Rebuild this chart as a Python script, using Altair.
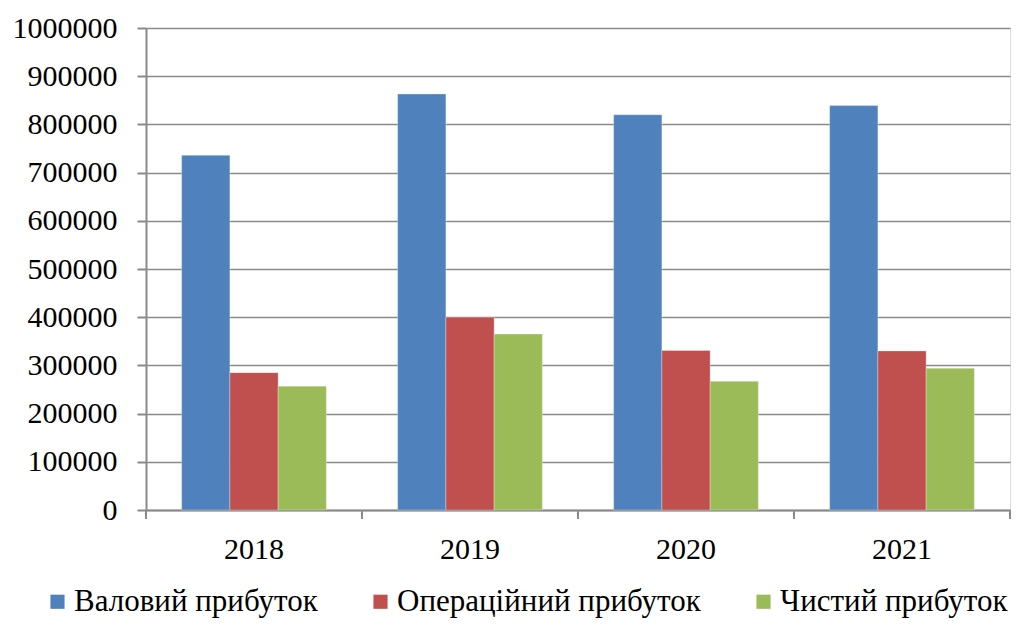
import altair as alt
import pandas as pd

years = ["2018", "2019", "2020", "2021"]
series = ["Валовий прибуток", "Операційний прибуток", "Чистий прибуток"]
valovyi = [736000, 863000, 820000, 839000]
operatsiinyi = [285000, 400000, 331000, 330000]
chystyi = [257000, 365000, 267000, 294000]
colors = ["#4F81BD", "#C0504D", "#9BBB59"]

rows = []
for name, vals in zip(series, [valovyi, operatsiinyi, chystyi]):
    for y, v in zip(years, vals):
        rows.append({"year": y, "series": name, "value": v})
df = pd.DataFrame(rows)
ticks_df = pd.DataFrame({"year": years})

W, H = 864, 482
P_IN = 0.33
FONT = "Liberation Serif"
FS = 30
GRID = "#8a8a8a"

xscale = alt.Scale(domain=years, paddingInner=P_IN, paddingOuter=P_IN / 2)

bars = alt.Chart(df).mark_bar(stroke="#ffffff", strokeWidth=0.6, strokeOpacity=0.5).encode(
    x=alt.X("year:N", scale=xscale, sort=years,
            axis=alt.Axis(title=None, labelAngle=0, ticks=False, grid=False,
                          labelFont=FONT, labelFontSize=FS, labelColor="#000000",
                          labelPadding=24, domainColor=GRID, domainWidth=2)),
    xOffset=alt.XOffset("series:N", sort=series, scale=alt.Scale(domain=series, paddingInner=0, paddingOuter=0)),
    y=alt.Y("value:Q", scale=alt.Scale(domain=[0, 1000000], nice=False),
            axis=alt.Axis(title=None, values=list(range(0, 1000001, 100000)),
                          format="d", labelFont=FONT, labelFontSize=FS, labelColor="#000000",
                          labelPadding=20, tickSize=9, tickColor=GRID, tickWidth=2,
                          domainColor=GRID, domainWidth=2, gridColor=GRID, gridWidth=1.6)),
    color=alt.Color("series:N", sort=series,
                    scale=alt.Scale(domain=series, range=colors),
                    legend=alt.Legend(title=None, orient="none", direction="horizontal",
                                      legendX=-104, legendY=558, padding=0,
                                      symbolType="square", symbolSize=200, symbolStrokeWidth=0,
                                      labelFont=FONT, labelFontSize=31, labelColor="#000000",
                                      labelOffset=1, columnPadding=47, labelLimit=400)),
)

shift = -(P_IN / 2) * (W / len(years))
tick_rules = alt.Chart(ticks_df).mark_rule(color=GRID, strokeWidth=2, xOffset=shift).encode(
    x=alt.X("year:N", scale=xscale, sort=years, bandPosition=0),
    y=alt.value(H),
    y2=alt.value(H + 9),
)
end_rule = alt.Chart(ticks_df.head(1)).mark_rule(color=GRID, strokeWidth=2).encode(
    x=alt.value(W),
    y=alt.value(H),
    y2=alt.value(H + 9),
)

chart = alt.layer(bars, tick_rules, end_rule).properties(
    width=W, height=H,
    autosize=alt.AutoSizeParams(type="none"),
    padding={"left": 138, "top": 20, "right": 2, "bottom": 110},
).configure_view(stroke=None).configure(background="#ffffff")

chart.save("out.html", embed_options={"renderer": "svg", "actions": False})
